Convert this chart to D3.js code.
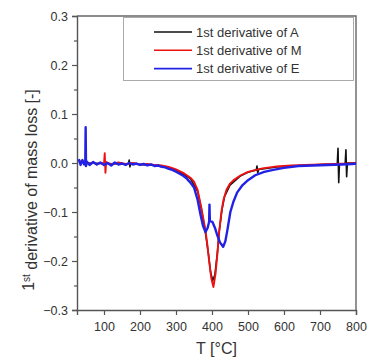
<!DOCTYPE html>
<html>
<head>
<meta charset="utf-8">
<script src="https://cdn.jsdelivr.net/npm/d3@7"></script>
<style>
  body { margin: 0; background: #fff; }
  text { font-family: "Liberation Sans", Arial, sans-serif; fill: #333; }
</style>
</head>
<body>
<script>
// series A (black)
var tempA = [30, 60, 100, 150, 168, 170, 172, 174, 200, 250, 300, 340, 360, 370, 380, 390, 396, 402, 408, 415, 420, 428, 435, 450, 480, 500, 523, 525, 527, 530, 580, 650, 700, 748, 750, 752, 754, 770, 772, 774, 776, 800];
var valA = [0.002, 0.000, -0.001, -0.002, -0.001, 0.006, -0.008, -0.002, -0.003, -0.005, -0.014, -0.032, -0.058, -0.092, -0.133, -0.185, -0.222, -0.240, -0.228, -0.183, -0.140, -0.094, -0.068, -0.045, -0.026, -0.019, -0.014, -0.006, -0.020, -0.013, -0.008, -0.005, -0.003, -0.002, 0.030, -0.040, -0.002, -0.001, 0.027, -0.028, 0.000, 0.000];

// series M (red)
var tempM = [30, 40, 50, 60, 70, 80, 90, 100, 102, 104, 106, 120, 140, 160, 180, 200, 220, 240, 260, 280, 300, 320, 340, 350, 360, 370, 380, 386, 392, 398, 404, 410, 415, 420, 426, 432, 440, 450, 460, 480, 500, 540, 580, 620, 660, 700, 740, 780, 800];
var valM = [0.004, 0.002, 0.003, -0.002, 0.001, -0.003, 0.000, -0.002, 0.020, -0.020, 0.002, -0.003, 0.001, -0.002, 0.000, -0.003, -0.002, -0.004, -0.005, -0.008, -0.013, -0.020, -0.030, -0.038, -0.055, -0.090, -0.130, -0.160, -0.200, -0.235, -0.253, -0.225, -0.185, -0.140, -0.100, -0.075, -0.055, -0.042, -0.035, -0.025, -0.018, -0.011, -0.007, -0.005, -0.004, -0.003, -0.002, -0.001, 0.000];

// series E (blue)
var tempE = [30, 35, 40, 45, 48, 49, 50, 52, 60, 70, 80, 90, 100, 110, 120, 130, 140, 150, 160, 170, 180, 190, 200, 210, 220, 230, 240, 250, 260, 270, 280, 290, 300, 310, 320, 330, 340, 350, 360, 368, 375, 382, 388, 392, 393, 394, 401, 408, 415, 422, 431, 437, 442, 447, 451, 460, 470, 485, 500, 520, 545, 570, 600, 640, 680, 720, 760, 790, 800];
var valE = [0.008, -0.004, 0.006, -0.003, 0.002, 0.073, -0.006, 0.003, -0.004, 0.002, -0.003, 0.001, -0.004, 0.000, -0.005, 0.001, -0.003, -0.001, -0.004, 0.000, -0.003, -0.001, -0.004, -0.002, -0.005, -0.003, -0.006, -0.005, -0.008, -0.009, -0.012, -0.014, -0.018, -0.022, -0.026, -0.032, -0.040, -0.050, -0.075, -0.105, -0.128, -0.141, -0.132, -0.120, -0.085, -0.118, -0.120, -0.132, -0.148, -0.162, -0.171, -0.160, -0.140, -0.118, -0.100, -0.078, -0.060, -0.045, -0.035, -0.025, -0.018, -0.014, -0.010, -0.006, -0.005, -0.004, -0.003, -0.002, -0.001];

var legendNames = ["1st derivative of A", "1st derivative of M", "1st derivative of E"];
var colors = ["#111111", "#ee1111", "#2222e6"];
var xTicks = [100, 200, 300, 400, 500, 600, 700, 800];
var yTicks = [-0.3, -0.2, -0.1, 0.0, 0.1, 0.2, 0.3];

var svgWidth = 372;
var svgHeight = 358;
var margin = { top: 16, right: 16, bottom: 48, left: 77 };
var width = svgWidth - margin.left - margin.right;
var height = svgHeight - margin.top - margin.bottom;

var svg = d3.select("body")
  .append("svg")
  .attr("width", svgWidth)
  .attr("height", svgHeight);

var g = svg.append("g")
  .attr("transform", "translate(" + margin.left + "," + margin.top + ")");

var x = d3.scaleLinear().domain([25, 800]).range([0, width]);
var y = d3.scaleLinear().domain([-0.3, 0.3]).range([height, 0]);

// minor ticks on y
g.append("g")
  .call(d3.axisLeft(y).tickValues(d3.range(-0.25, 0.3, 0.1)).tickSize(3).tickFormat(""))
  .call(a => a.select(".domain").remove())
  .selectAll("line").attr("stroke", "#555");

var yAxis = g.append("g")
  .call(d3.axisLeft(y).tickValues(yTicks).tickSize(5).tickPadding(4).tickFormat(d3.format(".1f")));
yAxis.selectAll("text").style("font-size", "12.5px").style("fill", "#333");

var xAxis = g.append("g")
  .attr("transform", `translate(0, ${height})`)
  .call(d3.axisBottom(x).tickValues(xTicks).tickSize(5).tickPadding(7));
xAxis.selectAll("text").style("font-size", "12.5px").style("fill", "#333");

g.selectAll(".domain").attr("stroke", "#555").attr("stroke-width", 1.4);
g.selectAll(".tick line").attr("stroke", "#555").attr("stroke-width", 1.2);

// frame top / right
g.append("path")
  .attr("d", "M0,0H" + width + "V" + height)
  .attr("fill", "none")
  .attr("stroke", "#666")
  .attr("stroke-width", 1.4);

var line = d3.line()
  .x(d => x(d[0]))
  .y(d => y(d[1]));

var series = [
  d3.zip(tempA, valA),
  d3.zip(tempM, valM),
  d3.zip(tempE, valE)
];

g.selectAll(".series")
  .data(series)
  .enter()
  .append("path")
  .attr("class", "series")
  .attr("d", line)
  .attr("fill", "none")
  .attr("stroke", (d, i) => colors[i])
  .attr("stroke-width", (d, i) => i == 2 ? 2.4 : (i == 1 ? 1.9 : 1.6))
  .attr("stroke-linejoin", "round");

// legend
var legend = svg.append("g");
legend.append("rect")
  .attr("x", 123.5).attr("y", 17.5)
  .attr("width", 230).attr("height", 63)
  .attr("fill", "#fff")
  .attr("stroke", "#aaa");

legendNames.forEach(function(name, i) {
  var ly = 32 + i * 18.3;
  legend.append("line")
    .attr("x1", 154).attr("x2", 192)
    .attr("y1", ly).attr("y2", ly)
    .attr("stroke", colors[i])
    .attr("stroke-width", 1.6);
  legend.append("text")
    .attr("x", 196).attr("y", ly)
    .attr("dy", "0.35em")
    .style("font-size", "13px")
    .text(name);
});

// axis titles
svg.append("text")
  .attr("x", margin.left + width / 2)
  .attr("y", 354)
  .style("text-anchor", "middle")
  .style("font-size", "16px")
  .text("T [°C]");

var yt = svg.append("text")
  .attr("transform", "translate(34,190) rotate(-90)")
  .style("text-anchor", "middle")
  .style("font-size", "16px");
yt.append("tspan").text("1");
yt.append("tspan").attr("dy", "-0.45em").style("font-size", "10px").text("st");
yt.append("tspan").attr("dy", "0.45em").text(" derivative of mass loss [-]");
</script>
</body>
</html>
